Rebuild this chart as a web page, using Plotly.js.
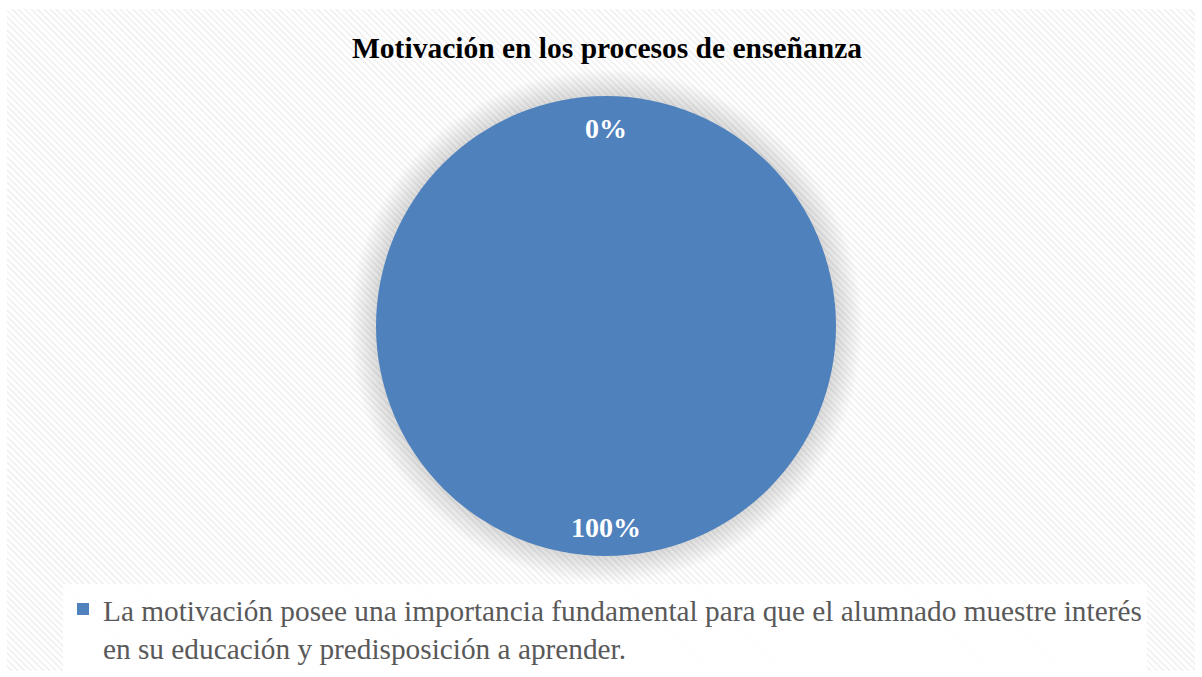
<!DOCTYPE html>
<html><head><meta charset="utf-8">
<script src="https://cdn.plot.ly/plotly-3.0.1.min.js"></script>
<style>
html,body{margin:0;padding:0;background:#fff;}
#bg{position:absolute;left:7px;top:9px;width:1188px;height:662px;
background:repeating-linear-gradient(45deg,#ffffff 0px,#ffffff 2.5px,#f3f3f3 2.5px,#f3f3f3 4.5px);}
#chart{position:absolute;left:0;top:0;width:1202px;height:677px;}
</style></head>
<body><div id="bg"></div><div id="chart"></div>
<script>
const chartTitle = 'Motivación en los procesos de enseñanza';
const categories = ['La motivación posee una importancia fundamental para que el alumnado muestre interés<br>en su educación y predisposición a aprender.', 'No'];
const values = [100, 0];
const sliceColors = ['#4f81bd', '#c0504d'];

const total = values.reduce((a,b)=>a+b,0);
const shown = values.map((v,i)=>i).filter(i=>values[i]>0);

const cx = 0.5042;
const labelY = [0.8109, 0.2201];
const annotations = values.map((v,i)=>({
  text: '<b>' + Math.round(v/total*100) + '%</b>',
  x: cx, y: v===0 ? labelY[0] : labelY[1], xref:'paper', yref:'paper', showarrow:false,
  xanchor:'center', yanchor:'middle',
  font:{family:'Liberation Serif', size:28, color:'#ffffff'}
}));

const shapes = [];
for (let k=0;k<18;k++){
  const r = 231 + k*1.5;
  shapes.push({type:'circle', xref:'paper', yref:'paper', layer:'below',
    x0:(606-r)/1202, x1:(606+r)/1202, y0:(351-r)/677, y1:(351+r)/677,
    fillcolor:'rgba(0,0,0,0.009)', line:{width:0}});
}

const trace = {
  type:'pie',
  labels: shown.map(i=>categories[i]),
  values: shown.map(i=>values[i]),
  marker:{colors: shown.map(i=>sliceColors[i]), line:{width:0}},
  textinfo:'none', hoverinfo:'label+percent', sort:false, direction:'clockwise', rotation:0,
  domain:{x:[(606-230)/1202,(606+230)/1202], y:[(351-230)/677,(351+230)/677]}
};

const layout = {
  width:1202, height:677, autosize:false,
  margin:{l:0,r:0,t:0,b:0},
  paper_bgcolor:'rgba(0,0,0,0)', plot_bgcolor:'rgba(0,0,0,0)',
  title:{text:'<b>'+chartTitle+'</b>', x:0.505, xanchor:'center', y:0.929, yanchor:'middle',
    font:{family:'Liberation Serif', size:29.5, color:'#000000'}},
  showlegend:true,
  legend:{x:0.0524, xanchor:'left', y:0.138, yanchor:'top', bgcolor:'rgba(255,255,255,0.85)',
    valign:'top',
    font:{family:'Liberation Serif', size:29.3, color:'#595959'}, itemwidth:30},
  annotations: annotations,
  shapes: shapes
};
Plotly.newPlot('chart',[trace],layout,{displayModeBar:false, staticPlot:true});
</script></body></html>
